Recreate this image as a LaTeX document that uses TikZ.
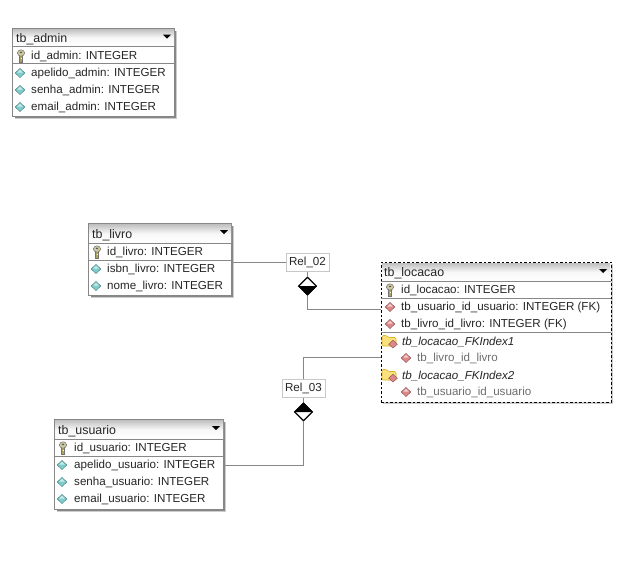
\documentclass[tikz,border=0pt]{standalone}
\usepackage{fontspec}
\setmainfont{Liberation Sans}
\usetikzlibrary{shapes.geometric}
\definecolor{framegray}{RGB}{135,135,135}
\definecolor{shadowgray}{RGB}{205,205,205}
\definecolor{linegray}{RGB}{135,135,135}
\definecolor{boxgray}{RGB}{200,200,200}
\definecolor{idxgray}{RGB}{110,110,110}
\definecolor{attrcyan}{RGB}{125,205,205}
\definecolor{attrpink}{RGB}{222,135,135}
\definecolor{keygold}{RGB}{175,165,95}
\definecolor{foldery}{RGB}{250,225,125}
\tikzset{
  x=1pt,y=-1pt,
  tablebox/.style={draw=framegray,line width=.9pt,fill=white,anchor=north west,inner sep=0pt,outer sep=0pt},
  fktable/.style={draw=black,line width=1pt,dashed,dash pattern=on 2.5pt off 2pt,fill=white,anchor=north west,inner sep=0pt,outer sep=0pt},
  rowtext/.style={anchor=west,inner sep=0pt,yshift=-.9pt,font=\fontsize{11.6}{13}\selectfont,text=black!85},
  headtext/.style={rowtext,font=\fontsize{12.4}{13}\selectfont},
  idxhead/.style={rowtext,font=\fontsize{11.6}{13}\selectfont\itshape},
  idxrow/.style={rowtext,text=idxgray},
  sep/.style={draw=framegray,line width=.8pt},
  conn/.style={draw=linegray,line width=1pt},
  relbox/.style={draw=boxgray,line width=1pt,fill=white,inner sep=0pt,minimum width=43pt,minimum height=18pt,font=\fontsize{11.6}{13}\selectfont,text=black!85},
  reldia/.style={diamond,draw=black,line width=1.2pt,fill=white,inner sep=0pt,minimum width=18pt,minimum height=18pt,aspect=1},
  pics/attr/.style={code={
    \fill[#1,draw=#1!60!black,line width=.4pt] (0,-4.6) -- (4.8,0) -- (0,4.6) -- (-4.8,0) -- cycle;
    \fill[white,opacity=.6] (0,-3.2) -- (2.8,-.4) -- (-2.8,-.4) -- cycle;
  }},
  pics/keyicon/.style={code={
    \fill[keygold,draw=black!55,line width=.5pt] (-1.3,-1) rectangle (1.3,5.8);
    \fill[keygold!60!white,draw=black!55,line width=.5pt] (0,-3) ellipse (3.6pt and 3.2pt);
    \fill[black!65] (0,-3.6) ellipse (1.3pt and .9pt);
    \fill[white] (.3,2) rectangle (1.3,3);
  }},
  pics/foldericon/.style={code={
    \fill[foldery,draw=brown!60!yellow,line width=.6pt,rounded corners=1.2pt] (-8,-5.5) -- (-3.5,-5.5) -- (-1.5,-3.5) -- (6,-3.5) -- (6,5) -- (-8,5) -- cycle;
    \fill[attrpink,draw=attrpink!60!black,line width=.4pt] (3,-.8) -- (7.4,3.2) -- (3,7) -- (-1.4,3.2) -- cycle;
  }}
}
\newcommand{\headbar}[4]{%
  \shade[top color=black!25,bottom color=white,middle color=black!3] (#1,#2) rectangle (#3,#4);}
\newcommand{\headarrow}[2]{\fill[black] (#1-4,#2-2) -- (#1+4,#2-2) -- (#1,#2+2) -- cycle;}
\begin{document}
\begin{tikzpicture}
\useasboundingbox (0,0) rectangle (630,584);
\fill[white] (0,0) rectangle (630,584);
% shadows: thick grey right and bottom edges, then a pale outer rim
\fill[shadowgray] (15,31) rectangle (177,119);
\fill[framegray] (15,31) rectangle (175.6,117.6);
\fill[shadowgray] (91,226) rectangle (234,298);
\fill[framegray] (91,226) rectangle (232.6,296.6);
\fill[shadowgray] (57,422) rectangle (226,512);
\fill[framegray] (57,422) rectangle (224.6,510.6);
\fill[shadowgray] (383,264) rectangle (613,404);

% ---- tb_admin
\node[tablebox,minimum width=162pt,minimum height=88pt] (tadmin) at (12.5,28.5) {};
\headbar{13}{29}{174}{46}
\draw[sep] (12.5,46) -- (174.5,46);
\draw[sep] (12.5,63) -- (174.5,63);
\headarrow{167}{36.5}
\node[headtext] (adminh) at (16,38.5) {tb\_admin};
\pic at (21,56) {keyicon};
\node[rowtext] (admin1) at (31,56) {id\_admin: INTEGER};
\pic at (20,73) {attr=attrcyan};
\node[rowtext] (admin2) at (31,73) {apelido\_admin: INTEGER};
\pic at (20,90) {attr=attrcyan};
\node[rowtext] (admin3) at (31,90) {senha\_admin: INTEGER};
\pic at (20,107) {attr=attrcyan};
\node[rowtext] (admin4) at (31,107) {email\_admin: INTEGER};

% ---- tb_livro
\node[tablebox,minimum width=143pt,minimum height=72pt] (tlivro) at (88.5,223.5) {};
\headbar{89}{224}{231}{243}
\draw[sep] (88.5,243) -- (231.5,243);
\draw[sep] (88.5,260) -- (231.5,260);
\headarrow{224}{232}
\node[headtext] (livroh) at (92,234.5) {tb\_livro};
\pic at (97,252) {keyicon};
\node[rowtext] (livro1) at (107,252) {id\_livro: INTEGER};
\pic at (96,269) {attr=attrcyan};
\node[rowtext] (livro2) at (107,269) {isbn\_livro: INTEGER};
\pic at (96,286) {attr=attrcyan};
\node[rowtext] (livro3) at (107,286) {nome\_livro: INTEGER};

% ---- tb_usuario
\node[tablebox,minimum width=169pt,minimum height=90pt] (tusuario) at (54.5,419.5) {};
\headbar{55}{420}{223}{439}
\draw[sep] (54.5,439) -- (223.5,439);
\draw[sep] (54.5,456) -- (223.5,456);
\headarrow{216}{428}
\node[headtext] (usuarioh) at (58,430.5) {tb\_usuario};
\pic at (63,448) {keyicon};
\node[rowtext] (usuario1) at (74,448) {id\_usuario: INTEGER};
\pic at (62,465) {attr=attrcyan};
\node[rowtext] (usuario2) at (74,465) {apelido\_usuario: INTEGER};
\pic at (62,482) {attr=attrcyan};
\node[rowtext] (usuario3) at (74,482) {senha\_usuario: INTEGER};
\pic at (62,499) {attr=attrcyan};
\node[rowtext] (usuario4) at (74,499) {email\_usuario: INTEGER};

% ---- tb_locacao
\node[fktable,minimum width=230pt,minimum height=140pt] (tlocacao) at (381,262) {};
\headbar{382}{263}{610}{281}
\draw[sep] (381,281) -- (611,281);
\draw[sep] (381,298) -- (611,298);
\draw[sep] (381,332) -- (611,332);
\headarrow{603}{271}
\node[headtext] (locacaoh) at (384,272.5) {tb\_locacao};
\pic at (390,290) {keyicon};
\node[rowtext] (loc1) at (401,290) {id\_locacao: INTEGER};
\pic at (390,307) {attr=attrpink};
\node[rowtext] (loc2) at (401,307) {tb\_usuario\_id\_usuario: INTEGER (FK)};
\pic at (390,324) {attr=attrpink};
\node[rowtext] (loc3) at (401,324) {tb\_livro\_id\_livro: INTEGER (FK)};
\pic at (390,341) {foldericon};
\node[idxhead] (loc4) at (402,341) {tb\_locacao\_FKIndex1};
\pic at (406,358) {attr=attrpink};
\node[idxrow] (loc5) at (417,358) {tb\_livro\_id\_livro};
\pic at (390,375) {foldericon};
\node[idxhead] (loc6) at (402,375) {tb\_locacao\_FKIndex2};
\pic at (406,392) {attr=attrpink};
\node[idxrow] (loc7) at (417,392) {tb\_usuario\_id\_usuario};

% ---- relationships
\node[relbox] (rel2) at (307.5,262) {Rel\_02};
\node[reldia] (dia2) at (307.5,286) {};
\fill[black] (dia2.west) -- (dia2.east) -- (dia2.south) -- cycle;
\node[relbox] (rel3) at (303.5,388) {Rel\_03};
\node[reldia] (dia3) at (303.5,412) {};
\fill[black] (dia3.west) -- (dia3.east) -- (dia3.north) -- cycle;

\coordinate (end2) at (381,309);
\coordinate (end3) at (381,357);
\coordinate (bend3) at (303.5,357);
\coordinate (start3) at (225,465);
\draw[conn] (tlivro.east |- rel2.west) -- (rel2.west);
\draw[conn] (rel2.south) -- (dia2.north);
\draw[conn] (dia2.south) |- (end2);
\draw[conn] (end3) -- (bend3) -- (rel3.north);
\draw[conn] (rel3.south) -- (dia3.north);
\draw[conn] (dia3.south) |- (start3);
\end{tikzpicture}
\end{document}
